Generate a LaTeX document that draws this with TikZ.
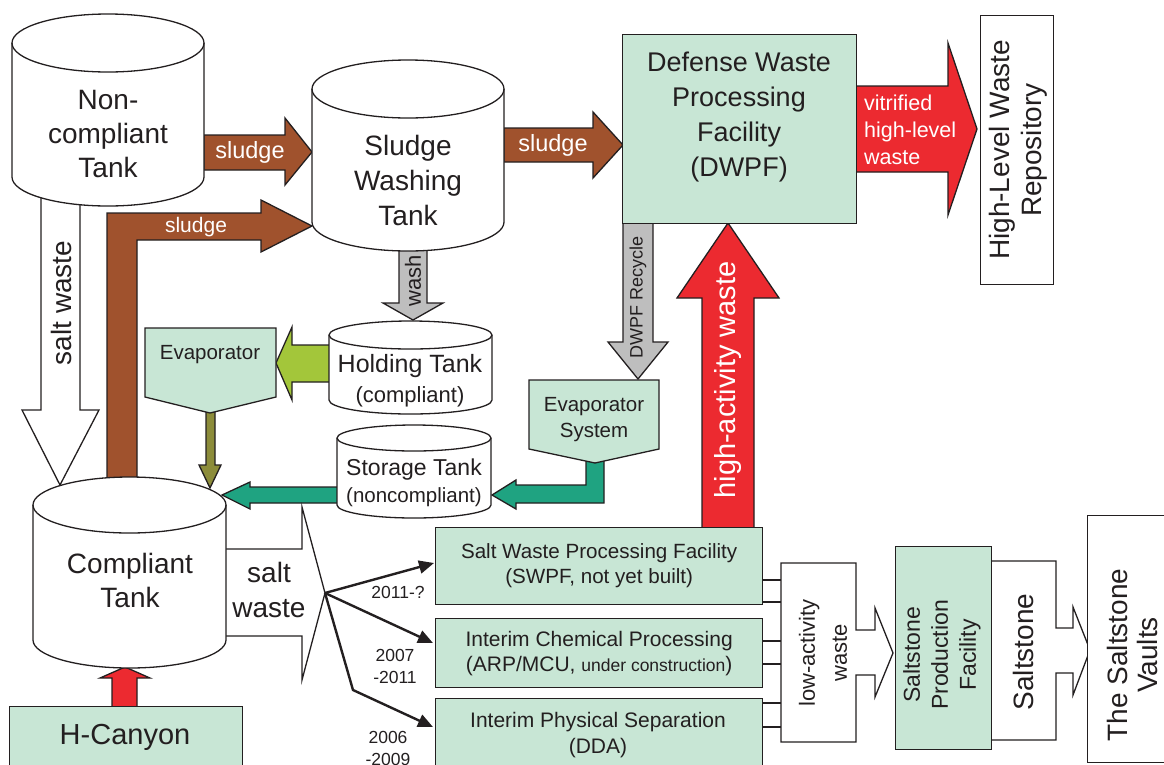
\documentclass[tikz,border=0pt]{standalone}
\usepackage{fontspec}
\setmainfont{Liberation Sans}
\usetikzlibrary{arrows.meta,calc}
\definecolor{boxgreen}{HTML}{C8E6D5}
\definecolor{sludgebrown}{HTML}{A0522D}
\definecolor{hired}{HTML}{EC2A30}
\definecolor{washgray}{HTML}{BEBEBE}
\definecolor{limeg}{HTML}{A3C63A}
\definecolor{oliveg}{HTML}{8C8C3A}
\definecolor{tealg}{HTML}{1FA381}
\definecolor{inkc}{HTML}{231F20}
\newcommand{\fsz}[2]{\fontsize{#1}{#2}\selectfont}
% tank: L R ytop ybot rx ry (rx, ry in pt)
\newcommand{\tankshape}[6]{%
  \draw[ln,fill=white] (#1,#3) -- (#1,#4) arc[start angle=180,end angle=360,x radius=#5pt,y radius=#6pt]
     -- (#2,#3) arc[start angle=0,end angle=180,x radius=#5pt,y radius=#6pt] -- cycle;
  \draw[ln] (#1,#3) arc[start angle=180,end angle=360,x radius=#5pt,y radius=#6pt];
}
\begin{document}
\begin{tikzpicture}[x=1pt,y=-1pt,line join=miter,
  ln/.style={draw=inkc,line width=1.3pt},
  blk/.style={draw=inkc,line width=1.3pt},
  txt/.style={text=inkc,inner sep=0pt,align=center},
  wtxt/.style={text=white,inner sep=0pt,align=center},
  gbox/.style={draw=inkc,fill=boxgreen,line width=1.3pt,inner sep=0pt},
  wbox/.style={draw=inkc,fill=white,line width=1.3pt,inner sep=0pt},
  thinarrow/.style={draw=inkc,line width=2.4pt,-{Triangle[length=15pt,width=13pt]}}]
\useasboundingbox (0,0) rectangle (1164,764);

% ---- block arrows (behind the tanks and boxes) ----
% salt waste down
\draw[blk,fill=white] (41,185) -- (80,185) -- (80,410) -- (99,410) -- (60,485) -- (22,410) -- (41,410) -- cycle;
% sludge L-shaped
\draw[blk,fill=sludgebrown] (107,490) -- (107,213) -- (261,213) -- (261,200) -- (312,226) -- (261,252) -- (261,240) -- (137,240) -- (137,490) -- cycle;
% sludge NC -> SW
\draw[blk,fill=sludgebrown] (204,135) -- (285,135) -- (285,118) -- (312,152) -- (285,185) -- (285,170) -- (204,170) -- cycle;
% sludge SW -> DWPF
\draw[blk,fill=sludgebrown] (504,128) -- (593,128) -- (593,112) -- (623,145) -- (593,178) -- (593,162) -- (504,162) -- cycle;
% vitrified
\draw[blk,fill=hired] (856,86) -- (948,86) -- (948,43) -- (977,129) -- (948,215) -- (948,172) -- (856,172) -- cycle;
% wash
\draw[blk,fill=washgray] (399,240) -- (427,240) -- (427,303) -- (443,303) -- (413,320) -- (383,303) -- (399,303) -- cycle;
% DWPF recycle
\draw[blk,fill=washgray] (623,215) -- (653,215) -- (653,342) -- (668,342) -- (638,379) -- (608,342) -- (623,342) -- cycle;
% high-activity waste
\draw[blk,fill=hired] (702,530) -- (702,298) -- (677,298) -- (728,223) -- (779,298) -- (754,298) -- (754,530) -- cycle;
% lime holding -> evaporator
\draw[blk,fill=limeg] (335,345) -- (292,345) -- (292,327) -- (276,363) -- (292,400) -- (292,382) -- (335,382) -- cycle;
% olive evaporator -> compliant
\draw[blk,fill=oliveg] (206,400) -- (215,400) -- (215,465) -- (221,465) -- (210,488) -- (199,465) -- (206,465) -- cycle;
% teal storage -> compliant
\draw[blk,fill=tealg] (345,487) -- (250,487) -- (250,482) -- (222,495) -- (250,509) -- (250,503) -- (345,503) -- cycle;
% teal evaporator system -> storage
\draw[blk,fill=tealg] (586,450) -- (604,450) -- (604,503) -- (516,503) -- (516,509) -- (492,495) -- (516,480) -- (516,485) -- (586,485) -- cycle;
% salt waste right
\draw[blk,fill=white] (220,549) -- (302,549) -- (302,507) -- (325,593) -- (302,680) -- (302,636) -- (220,636) -- cycle;
% H-Canyon red
\draw[blk,fill=hired] (112,712) -- (112,678) -- (100,678) -- (125,667) -- (150,678) -- (137,678) -- (137,712) -- cycle;
% low-activity waste
\draw[blk,fill=white] (781,563) -- (856,563) -- (856,630) -- (875,630) -- (875,608) -- (893,653) -- (875,697) -- (875,675) -- (856,675) -- (856,742) -- (781,742) -- cycle;
% saltstone
\draw[blk,fill=white] (991,561) -- (1056,561) -- (1056,628) -- (1073,628) -- (1073,607) -- (1090,650) -- (1073,695) -- (1073,673) -- (1056,673) -- (1056,740) -- (991,740) -- cycle;

% ---- tanks ----
\tankshape{12}{204}{43}{177}{96}{29}
\tankshape{312}{504}{89}{222}{96}{29}
\tankshape{329}{492}{335}{400}{81.5}{14}
\tankshape{337}{491}{438}{505}{77}{13}
\tankshape{33}{226}{505}{640}{96.5}{28}

% ---- boxes ----
\node[gbox,anchor=north west,minimum width=234pt,minimum height=189pt] (dwpf) at (622,34) {};
\node[wbox,anchor=north west,minimum width=73pt,minimum height=269pt] (hlw) at (980,15) {};
\node[gbox,anchor=north west,minimum width=327pt,minimum height=77pt,txt,font=\fsz{20.6}{25}] (swpf) at (435,527)
  {Salt Waste Processing Facility\\(SWPF, not yet built)};
\node[gbox,anchor=north west,minimum width=327pt,minimum height=69pt,txt,font=\fsz{21}{25}] (icp) at (435,618)
  {Interim Chemical Processing\\(ARP/MCU, {\fsz{17.5}{25}under construction})};
\node[gbox,anchor=north west,minimum width=327pt,minimum height=80pt] (ips) at (435,698) {};
\node[gbox,anchor=north west,minimum width=96pt,minimum height=203pt] (spf) at (895,546) {};
\node[wbox,anchor=north west,minimum width=100pt,minimum height=247pt] (vaults) at (1087,515) {};
\node[gbox,anchor=north west,minimum width=233pt,minimum height=80pt] (hcan) at (9,706) {};
\draw[ln,fill=boxgreen] (145,328) -- (276,328) -- (276,397) -- (210,413) -- (145,397) -- cycle;
\draw[ln,fill=boxgreen] (529,380) -- (659,380) -- (659,449) -- (595,463) -- (529,449) -- cycle;

% ---- stubs to low-activity ----
\foreach \yy in {580,602,641,664,703,727} \draw[ln] (762,\yy) -- (781,\yy);

% ---- thin branching arrows ----
\coordinate (fork) at (325,593);
\coordinate (bend) at (353,690);
\coordinate (e1) at (434,563);
\coordinate (e2) at (433,643);
\coordinate (e3) at (433,727);
\draw[thinarrow] (fork) -- (e1);
\draw[thinarrow] (fork) -- (e2);
\draw[thinarrow] (fork) -- (bend) -- (e3);

% ---- texts ----
\node[txt,font=\fsz{28}{34}] (tnc) at (108,134) {Non-\\compliant\\Tank};
\node[txt,font=\fsz{28}{35}] (tsw) at (408,180) {Sludge\\Washing\\Tank};
\node[txt,font=\fsz{27}{35}] (tdwpf) at (739,117) {Defense Waste\\Processing\\Facility\\(DWPF)};
\node[txt,font=\fsz{28}{34}] (tcomp) at (130,580) {Compliant\\Tank};
\node[txt,font=\fsz{28}{35}] (tsalt) at (269,590) {salt\\waste};
\node[txt,font=\fsz{28}{34},rotate=90] (tsaltv) at (61,303) {salt waste};
\node[wtxt,font=\fsz{23.5}{28}] (ts1) at (250,152) {sludge};
\node[wtxt,font=\fsz{23.5}{28}] (ts2) at (553,145) {sludge};
\node[wtxt,font=\fsz{21}{26}] (ts3) at (196,227) {sludge};
\node[wtxt,font=\fsz{21.5}{27},align=left,anchor=west] (tvit) at (864,130) {vitrified\\high-level\\waste};
\node[txt,font=\fsz{28}{32},rotate=90] (thlw) at (1018,150) {High-Level Waste\\Repository};
\node[txt,font=\fsz{22}{26},rotate=90] (twash) at (413,281) {wash};
\node[txt,font=\fsz{18}{22},rotate=90] (trec) at (638,297) {DWPF Recycle};
\node[wtxt,font=\fsz{29}{34},rotate=90] (thaw) at (728,380) {high-activity waste};
\node[txt,font=\fsz{25}{30}] (thold) at (410,381) {Holding Tank\\{\fsz{22}{30}(compliant)}};
\node[txt,font=\fsz{23}{27}] (tstor) at (414,483) {Storage Tank\\{\fsz{20.5}{27}(noncompliant)}};
\node[txt,font=\fsz{20.5}{26}] (tevap) at (210,355) {Evaporator};
\node[txt,font=\fsz{20.5}{26}] (tevs) at (594,420) {Evaporator\\System};
\node[txt,font=\fsz{17.5}{22}] (y1) at (398,592) {2011-?};
\node[txt,font=\fsz{17.5}{22}] (y2) at (395,666) {2007\\-2011};
\node[txt,font=\fsz{17.5}{22}] (y3) at (388,748) {2006\\-2009};
\node[txt,font=\fsz{21}{26}] (tips) at (598,735) {Interim Physical Separation\\(DDA)};
\node[txt,font=\fsz{22}{32},rotate=90] (tlaw) at (823,653) {low-activity\\waste};
\node[txt,font=\fsz{23}{28},rotate=90] (tspf) at (942,655) {Saltstone\\Production\\Facility};
\node[txt,font=\fsz{28}{32},rotate=90] (tsst) at (1023,652) {Saltstone};
\node[txt,font=\fsz{28}{30},rotate=90] (tvau) at (1132,655) {The Saltstone\\Vaults};
\node[txt,font=\fsz{29}{34}] (thc) at (125,737) {H-Canyon};
\end{tikzpicture}
\end{document}
